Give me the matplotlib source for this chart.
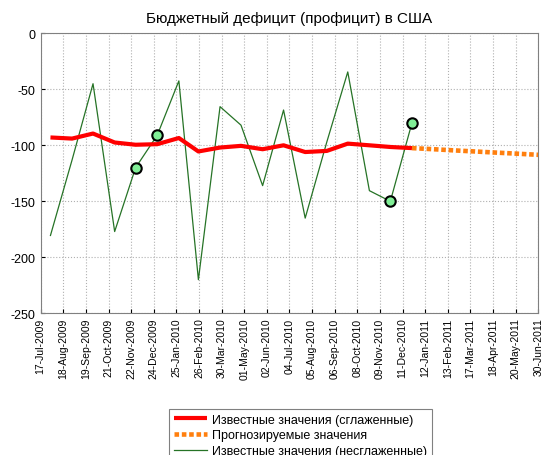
import numpy as np
import pandas as pd
import matplotlib
matplotlib.use('Agg')
import matplotlib.pyplot as plt
import matplotlib.dates as mdates

plt.rcParams['font.family'] = ['Liberation Sans', 'DejaVu Sans']
plt.rcParams['axes.unicode_minus'] = False

# monthly data, month ends
known_dates = pd.date_range('2009-07-31', '2010-12-31', freq='ME')
raw = [-180.5, -113, -45, -177, -120, -91, -42.5, -220, -65.5, -82, -136,
       -68.5, -165, -97, -34.5, -140.5, -150, -80]
smooth = [-93, -94, -89.5, -97.5, -99.5, -99, -93.5, -105.5, -102, -100.5,
          -103.5, -100, -106, -105, -98.5, -100, -101.5, -102.5]

fc_dates = pd.date_range('2010-12-31', '2011-06-30', freq='ME')
forecast = [-102.5, -103.5, -104.5, -105.5, -106.5, -107.5, -108.5]

# highlighted points
pt_dates = pd.to_datetime(['2009-11-30', '2009-12-31', '2010-11-30', '2010-12-31'])
pt_vals = [-120, -91, -150, -80]

tick_labels = ['17-Jul-2009', '18-Aug-2009', '19-Sep-2009', '21-Oct-2009', '22-Nov-2009',
               '24-Dec-2009', '25-Jan-2010', '26-Feb-2010', '30-Mar-2010', '01-May-2010',
               '02-Jun-2010', '04-Jul-2010', '05-Aug-2010', '06-Sep-2010', '08-Oct-2010',
               '09-Nov-2010', '11-Dec-2010', '12-Jan-2011', '13-Feb-2011', '17-Mar-2011',
               '18-Apr-2011', '20-May-2011', '30-Jun-2011']

x0 = mdates.date2num(pd.Timestamp('2009-07-17'))
x1 = mdates.date2num(pd.Timestamp('2011-06-30'))

fig = plt.figure(figsize=(5.41, 4.56), dpi=100)
ax = fig.add_axes([0.0752, 0.3107, 0.9198, 0.6141])

ax.plot(known_dates, smooth, color='#ff0000', lw=3, solid_capstyle='butt',
        label='Известные значения (сглаженные)', zorder=3)
ax.plot(fc_dates, forecast, color='#ff7f0e', lw=3.3, linestyle=(0, (1, 0.6)),
        dash_capstyle='butt', label='Прогнозируемые значения', zorder=3)
ax.plot(known_dates, raw, color='#267326', lw=0.9,
        label='Известные значения (несглаженные)', zorder=2)
ax.plot(pt_dates, pt_vals, 'o', ms=7.5, mfc='#80ee96', mec='black', mew=1.5, zorder=4)

ax.set_xlim(x0, x1)
ax.set_ylim(-250, 0)
ax.set_xticks(np.linspace(x0, x1, 23))
ax.set_xticklabels(tick_labels, rotation=90, fontsize=7.5)
ax.set_yticks([-250, -200, -150, -100, -50, 0])
ax.tick_params(axis='y', labelsize=9, direction='in', length=3)
ax.tick_params(axis='x', direction='in', length=3, pad=3)
ax.grid(True, linestyle=':', color='#b0b0b0', lw=0.8)
for s in ax.spines.values():
    s.set_color('#808080')

ax.set_title('Бюджетный дефицит (профицит) в США', fontsize=11, pad=8)

leg = ax.legend(loc='upper left', bbox_to_anchor=(163 / 541, 1 - 404 / 456),
                bbox_transform=fig.transFigure, fontsize=9, handlelength=2.7,
                handletextpad=0.4, labelspacing=0.3, borderpad=0.35,
                fancybox=False, framealpha=1)
leg.get_frame().set_edgecolor('#808080')
leg.get_frame().set_linewidth(0.8)

fig.savefig('out.png', dpi=100)
